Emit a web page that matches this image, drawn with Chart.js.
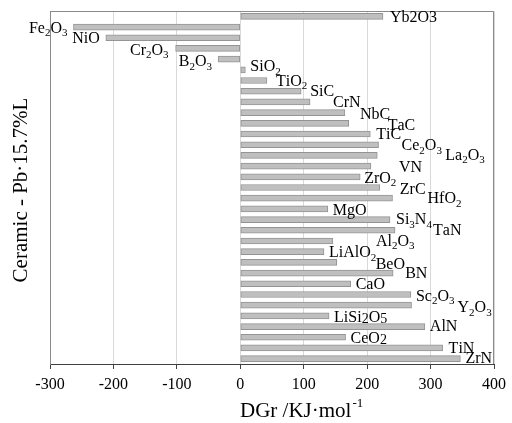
<!DOCTYPE html>
<html>
<head>
<meta charset="utf-8">
<script src="https://cdn.jsdelivr.net/npm/chart.js@4.4.1/dist/chart.umd.min.js"></script>
<style>
  body { margin: 0; background: #fff; }
  #wrap { width: 512px; height: 423px; }
</style>
</head>
<body>
<div id="wrap"><canvas id="dgChart" width="512" height="423"></canvas></div>
<script>
// ceramic names, "_" = subscript, "~" = small lowered digit
var ceramics = ['Yb2O3', 'Fe_2O_3', 'NiO', 'Cr_2O_3', 'B_2O_3', 'SiO_2', 'TiO_2', 'SiC', 'CrN', 'NbC', 'TaC',
    'TiC', 'Ce_2O_3', 'La_2O_3', 'VN', 'ZrO_2', 'ZrC', 'HfO_2', 'MgO', 'Si_3N_4', 'TaN', 'Al_2O_3',
    'LiAlO_2', 'BeO', 'BN', 'CaO', 'Sc_2O_3', 'Y_2O_3', 'LiSi~2O~5', 'AlN', 'CeO~2', 'TiN', 'ZrN'];

// DGr values (kJ/mol)
var dgValues = [225, -263, -212, -102, -35, 8, 42, 96, 110, 165, 171,
    205, 218, 216, 206, 189, 220, 240, 138, 236, 244, 146,
    132, 152, 241, 174, 269, 270, 140, 291, 166, 319, 347];

var xTicks = [-300, -200, -100, 0, 100, 200, 300, 400];

// label offsets [dx from bar end, dy from bar centre] in px
var labelOffsets = [[7, 1], [6, 1.5], [6, 1.5], [7, 2], [6, 2.5], [5, -3], [9, 1], [9, 1], [23, 1], [15, 2.5], [39, 2],
    [6, 1], [23, 1], [68, 0], [28, 2], [4, 1.5], [20, 2], [35, 1], [5, 2], [6, 0.5], [38, 1], [43, 0.5],
    [5, 1.5], [39, 2], [12, 1], [5, 1], [5, 2], [46, 2.5], [5, 1.5], [5, 0.5], [5, 1.5], [6, 0.5], [5, 0]];

var serif = '"Liberation Serif", "Times New Roman", serif';

function parseLabel(txt) {
    var parts = [];
    for (var i = 0; i < txt.length; i++) {
        var c = txt[i];
        if (c === '_' || c === '~') {
            parts.push({ t: txt[i + 1], kind: c });
            i++;
        } else {
            parts.push({ t: c, kind: '' });
        }
    }
    return parts;
}

function partFont(kind) {
    if (kind === '_') return '11px ' + serif;
    if (kind === '~') return '14px ' + serif;
    return '16px ' + serif;
}

function partShift(kind) {
    if (kind === '_') return 5;
    if (kind === '~') return 2;
    return 0;
}

var labelPlugin = {
    id: 'barLabels',
    beforeDatasetsDraw: function(chart) {
        var ctx = chart.ctx, a = chart.chartArea;
        ctx.save();
        ctx.strokeStyle = '#8a8a8a';
        ctx.lineWidth = 1;
        ctx.beginPath();
        ctx.moveTo(a.left, a.top + 0.5);
        ctx.lineTo(a.right - 0.5, a.top + 0.5);
        ctx.lineTo(a.right - 0.5, a.bottom);
        ctx.stroke();
        ctx.restore();
    },
    afterDatasetsDraw: function(chart) {
        var ctx = chart.ctx;
        var meta = chart.getDatasetMeta(0);
        ctx.save();
        ctx.fillStyle = '#000';
        ctx.textBaseline = 'middle';
        ctx.textAlign = 'left';
        meta.data.forEach(function(bar, i) {
            var parts = parseLabel(ceramics[i]);
            var off = labelOffsets[i];
            var w = 0;
            parts.forEach(function(p) {
                ctx.font = partFont(p.kind);
                p.w = ctx.measureText(p.t).width;
                w += p.w;
            });
            var x = dgValues[i] < 0 ? bar.x - off[0] - w : bar.x + off[0];
            var y = bar.y + off[1];
            parts.forEach(function(p) {
                ctx.font = partFont(p.kind);
                ctx.fillText(p.t, x, y + partShift(p.kind));
                x += p.w;
            });
        });

        // axis titles
        ctx.fillStyle = '#000';
        ctx.font = '21px ' + serif;
        ctx.textBaseline = 'middle';
        ctx.textAlign = 'left';
        var xt = 'DGr /KJ\u00b7mol';
        ctx.fillText(xt, 240, 411);
        var tw = ctx.measureText(xt).width;
        ctx.font = '13px ' + serif;
        ctx.fillText('-1', 240 + tw + 1, 404);

        ctx.translate(21, 190);
        ctx.rotate(-Math.PI / 2);
        ctx.font = '21px ' + serif;
        ctx.textAlign = 'center';
        ctx.fillText('Ceramic - Pb\u00b715.7%L', 0, 0);
        ctx.restore();
    }
};

var ctx = document.getElementById('dgChart').getContext('2d');
var dgChart = new Chart(ctx, {
    type: 'bar',
    data: {
        labels: ceramics,
        datasets: [{
            label: 'DGr',
            data: dgValues,
            backgroundColor: '#bfbfbf',
            borderColor: '#949494',
            borderWidth: 1,
            borderSkipped: false,
            barThickness: 6
        }]
    },
    options: {
        indexAxis: 'y',
        responsive: false,
        animation: false,
        devicePixelRatio: 1,
        layout: { padding: { left: 0, right: 18, top: 11, bottom: 0 } },
        plugins: {
            legend: { display: false },
            tooltip: { enabled: false }
        },
        scales: {
            x: {
                min: -300,
                max: 400,
                afterBuildTicks: function(scale) {
                    scale.ticks = xTicks.map(function(v) { return { value: v }; });
                },
                afterFit: function(scale) { scale.height = 59; },
                ticks: {
                    color: '#000',
                    padding: 6,
                    maxRotation: 0,
                    font: { family: serif, size: 16 }
                },
                grid: {
                    color: '#d9d9d9',
                    tickColor: '#404040',
                    tickLength: 5
                },
                border: { color: '#404040', width: 1 }
            },
            y: {
                afterFit: function(scale) { scale.width = 50; },
                ticks: { display: false },
                grid: { display: false, drawTicks: false },
                border: { color: '#8a8a8a', width: 1 }
            }
        }
    },
    plugins: [labelPlugin]
});
</script>
</body>
</html>
